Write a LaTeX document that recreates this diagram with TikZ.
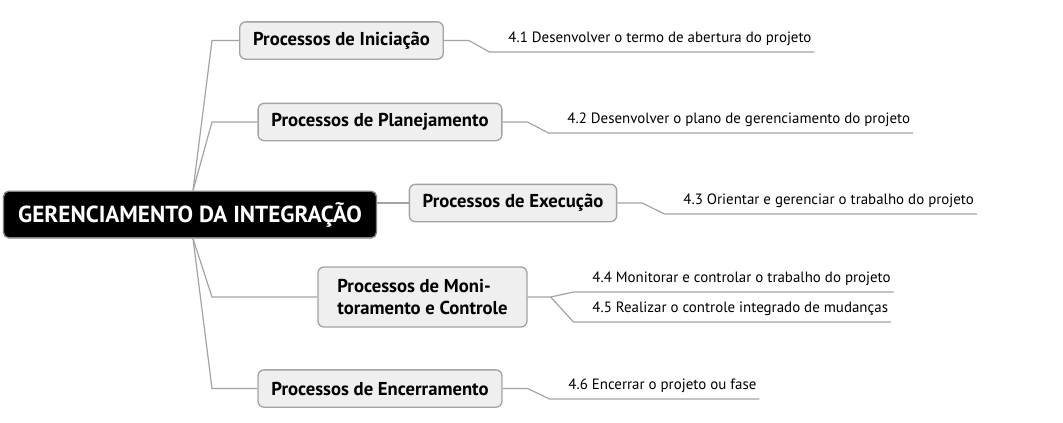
\documentclass[tikz,border=0pt]{standalone}
\usepackage{fontspec}
\setmainfont{PT Sans}
\usepackage{tikz}

\definecolor{cinzaborda}{HTML}{A3A3A3}
\definecolor{cinzafundo}{HTML}{EFEFEF}

\begin{document}
\begin{tikzpicture}[x=0.75pt, y=-0.75pt,
        linha/.style={draw=cinzaborda, line width=0.9pt},
        processo/.style={draw=cinzaborda, fill=cinzafundo, line width=1pt, rounded corners=4.5pt,
            inner xsep=10pt, minimum height=28pt, align=left,
            font=\bfseries\fontsize{14}{17}\selectfont},
        tarefa/.style={anchor=south west, inner xsep=2pt, inner ysep=4.2pt,
            font=\fontsize{11.2}{13}\selectfont}]
        \useasboundingbox (0,0) rectangle (1063,422);

        % Nó central
        \node [draw=gray, fill=black, text=white, rounded corners=4pt, line width=1pt, inner xsep=11pt,
            minimum height=35pt, font=\bfseries\fontsize{17.4}{20}\selectfont] (raiz) at (190,214.5)
            {GERENCIAMENTO DA INTEGRAÇÃO};
        \coordinate (tronco) at (212,0);

        % Grupos de processos
        \node [processo] (ini) at (341.5,40.5) {Processos de Iniciação};
        \node [processo] (plan) at (380,122) {Processos de Planejamento};
        \node [processo] (exe) at (513,203) {Processos de Execução};
        \node [processo, minimum height=45pt, inner xsep=14.5pt] (mon) at (422.5,297)
            {Processos de Moni-\\toramento e Controle};
        \node [processo] (enc) at (380,388.5) {Processos de Encerramento};

        % Ligações a partir do nó central
        \draw [linha] ([shift={(3,0)}]raiz.north) -- (tronco |- ini.west) -- (ini.west);
        \draw [linha] ([shift={(3,0)}]raiz.north) -- (tronco |- plan.west) -- (plan.west);
        \draw [linha] (raiz.east |- exe.west) -- (exe.west);
        \draw [linha] ([shift={(3,0)}]raiz.south) -- (tronco |- mon.west) -- (mon.west);
        \draw [linha] ([shift={(3,0)}]raiz.south) -- (tronco |- enc.west) -- (enc.west);

        % Processos do capítulo 4 (texto sobre a linha)
        \node [tarefa] (t41) at (505.5,52) {4.1 Desenvolver o termo de abertura do projeto};
        \node [tarefa] (t42) at (564.5,133) {4.2 Desenvolver o plano de gerenciamento do projeto};
        \node [tarefa] (t43) at (680.5,214) {4.3 Orientar e gerenciar o trabalho do projeto};
        \node [tarefa] (t44) at (589.5,292) {4.4 Monitorar e controlar o trabalho do projeto};
        \node [tarefa] (t45) at (589.5,322) {4.5 Realizar o controle integrado de mudanças};
        \node [tarefa] (t46) at (565.5,399) {4.6 Encerrar o projeto ou fase};

        % Ligações dos grupos aos processos
        \draw [linha] (ini.east) -- ++(25,0) -- ([shift={(-16,0)}]t41.south west) -- (t41.south east);
        \draw [linha] (plan.east) -- ++(25,0) -- ([shift={(-16,0)}]t42.south west) -- (t42.south east);
        \draw [linha] (exe.east) -- ++(25,0) -- ([shift={(-16,0)}]t43.south west) -- (t43.south east);
        \draw [linha] (mon.east) -- ++(23,0) coordinate (ramo)
            -- ([shift={(-16,0)}]t44.south west) -- (t44.south east);
        \draw [linha] (ramo) -- ([shift={(-16,0)}]t45.south west) -- (t45.south east);
        \draw [linha] (enc.east) -- ++(25,0) -- ([shift={(-16,0)}]t46.south west) -- (t46.south east);
    \end{tikzpicture}
\end{document}
